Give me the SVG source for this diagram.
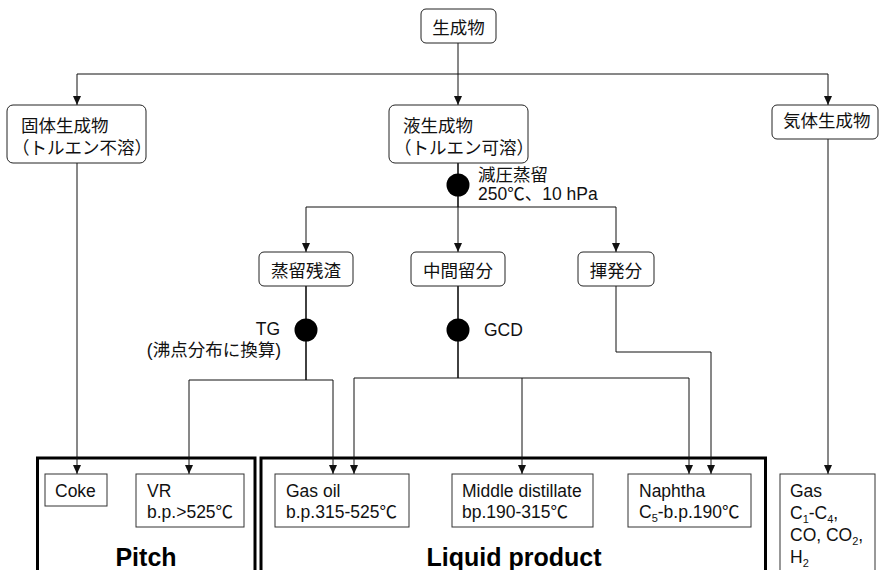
<svg xmlns="http://www.w3.org/2000/svg" width="881" height="570" viewBox="0 0 881 570">
  <style>
    .rbox { fill: #fff; stroke: #222; stroke-width: 1; }
    .sbox { fill: #fff; stroke: #333; stroke-width: 1; }
    .group { fill: none; stroke: #000; stroke-width: 3; }
    .jp { font-family: "Noto Sans CJK JP", "Noto Sans", sans-serif; font-size: 17.5px; fill: #111; }
    .en { font-family: "Liberation Sans", Arial, "Noto Sans CJK JP", sans-serif; font-size: 17.5px; fill: #111; }
    .title { font-family: "Liberation Sans", Arial, sans-serif; font-size: 25px; font-weight: bold; fill: #000; }
    .sub { font-size: 11px; }
    .ln { fill: none; stroke: #111; stroke-width: 1; }
    .lnb { fill: none; stroke: #111; stroke-width: 1.6; }
    .arr { marker-end: url(#head); }
    .dot { fill: #000; }
  </style>
  <defs>
    <marker id="head" viewBox="0 0 10 10" refX="10" refY="5" markerWidth="9" markerHeight="8" markerUnits="userSpaceOnUse" orient="auto" preserveAspectRatio="none">
      <path d="M0,0 L10,5 L0,10 z" fill="#111"/>
    </marker>
  </defs>

  <!-- product groups -->
  <g id="pitch-group">
    <rect class="group" x="37.5" y="458" width="217.5" height="130"/>
    <text class="title" x="146" y="566" text-anchor="middle">Pitch</text>
  </g>
  <g id="liquid-group">
    <rect class="group" x="261" y="458" width="504.5" height="130"/>
    <text class="title" x="514" y="566" text-anchor="middle">Liquid product</text>
  </g>

  <!-- connectors -->
  <g id="connectors">
    <line class="ln arr" x1="458" y1="43" x2="458" y2="105"/>
    <line class="ln" x1="77" y1="74" x2="828" y2="74"/>
    <line class="ln arr" x1="77" y1="74" x2="77" y2="105"/>
    <line class="ln arr" x1="828" y1="74" x2="828" y2="105"/>

    <line class="lnb" x1="458" y1="163" x2="458" y2="207"/>
    <line class="ln" x1="306" y1="207" x2="616" y2="207"/>
    <line class="ln arr" x1="306" y1="207" x2="306" y2="252"/>
    <line class="ln arr" x1="458" y1="207" x2="458" y2="252"/>
    <line class="ln arr" x1="616" y1="207" x2="616" y2="252"/>

    <line class="lnb" x1="306" y1="286" x2="306" y2="380"/>
    <line class="ln" x1="189" y1="380" x2="333" y2="380"/>
    <line class="ln arr" x1="189" y1="380" x2="189" y2="474"/>
    <line class="ln arr" x1="333" y1="380" x2="333" y2="474"/>

    <line class="lnb" x1="458" y1="286" x2="458" y2="378"/>
    <line class="ln" x1="354" y1="378" x2="689" y2="378"/>
    <line class="ln arr" x1="354" y1="378" x2="354" y2="474"/>
    <line class="ln arr" x1="522" y1="378" x2="522" y2="474"/>
    <line class="ln arr" x1="689" y1="378" x2="689" y2="474"/>

    <path class="ln arr" d="M616,286 V352 H711 V474"/>
    <line class="ln arr" x1="77" y1="163" x2="77" y2="474"/>
    <line class="ln arr" x1="828" y1="139" x2="828" y2="474"/>

    <!-- analysis steps -->
    <circle class="dot" cx="458" cy="185" r="11.5"/>
    <circle class="dot" cx="306" cy="330" r="11.5"/>
    <circle class="dot" cx="458" cy="330" r="11.5"/>
    <text class="jp" x="478" y="181">減圧蒸留<tspan class="en" x="478" y="200">250℃、10 hPa</tspan></text>
    <text class="en" text-anchor="end"><tspan x="280" y="335">TG</tspan><tspan x="281" y="356">(<tspan class="jp">沸点分布に換算</tspan>)</tspan></text>
    <text class="en" x="484" y="336">GCD</text>
  </g>

  <!-- process nodes -->
  <g id="products">
    <rect class="rbox" x="421" y="9" width="75" height="34" rx="5"/>
    <text class="jp" x="458.5" y="34" text-anchor="middle">生成物</text>
  </g>
  <g id="solid-products">
    <rect class="rbox" x="7" y="105" width="139" height="58" rx="6"/>
    <text class="jp"><tspan x="21" y="131.5">固体生成物</tspan><tspan x="12" y="153.5">（トルエン不溶）</tspan></text>
  </g>
  <g id="liquid-products">
    <rect class="rbox" x="389" y="105" width="139" height="58" rx="6"/>
    <text class="jp"><tspan x="403" y="131.5">液生成物</tspan><tspan x="394" y="153.5">（トルエン可溶）</tspan></text>
  </g>
  <g id="gas-products">
    <rect class="rbox" x="772" y="105" width="106" height="34" rx="5"/>
    <text class="jp" x="783" y="127">気体生成物</text>
  </g>
  <g id="residue">
    <rect class="rbox" x="259" y="252" width="94" height="34" rx="5"/>
    <text class="jp" x="306" y="277" text-anchor="middle">蒸留残渣</text>
  </g>
  <g id="middle-fraction">
    <rect class="rbox" x="411" y="252" width="94" height="34" rx="5"/>
    <text class="jp" x="458" y="277" text-anchor="middle">中間留分</text>
  </g>
  <g id="volatiles">
    <rect class="rbox" x="578" y="252" width="76" height="34" rx="5"/>
    <text class="jp" x="616" y="277" text-anchor="middle">揮発分</text>
  </g>

  <!-- final products -->
  <g id="coke">
    <rect class="sbox" x="45" y="474" width="62" height="32"/>
    <text class="en" x="55" y="497">Coke</text>
  </g>
  <g id="vr">
    <rect class="sbox" x="136" y="474" width="108" height="53"/>
    <text class="en"><tspan x="147" y="497">VR</tspan><tspan x="147" y="518">b.p.&gt;525℃</tspan></text>
  </g>
  <g id="gas-oil">
    <rect class="sbox" x="275" y="474" width="134" height="53"/>
    <text class="en"><tspan x="286" y="497">Gas oil</tspan><tspan x="286" y="518">b.p.315-525℃</tspan></text>
  </g>
  <g id="middle-distillate">
    <rect class="sbox" x="452" y="474" width="141" height="53"/>
    <text class="en"><tspan x="462" y="497">Middle distillate</tspan><tspan x="462" y="518">bp.190-315℃</tspan></text>
  </g>
  <g id="naphtha">
    <rect class="sbox" x="628" y="474" width="123" height="53"/>
    <text class="en"><tspan x="639" y="497">Naphtha</tspan><tspan x="639" y="518">C</tspan><tspan class="sub" dy="4">5</tspan><tspan dy="-4">-b.p.190℃</tspan></text>
  </g>
  <g id="gas">
    <rect class="sbox" x="780" y="474" width="95" height="110"/>
    <text class="en"><tspan x="790" y="497">Gas</tspan><tspan x="790" y="519">C</tspan><tspan class="sub" dy="4">1</tspan><tspan dy="-4">-C</tspan><tspan class="sub" dy="4">4</tspan><tspan dy="-4">,</tspan><tspan x="790" y="541">CO, CO</tspan><tspan class="sub" dy="4">2</tspan><tspan dy="-4">,</tspan><tspan x="790" y="563">H</tspan><tspan class="sub" dy="4">2</tspan></text>
  </g>
</svg>
